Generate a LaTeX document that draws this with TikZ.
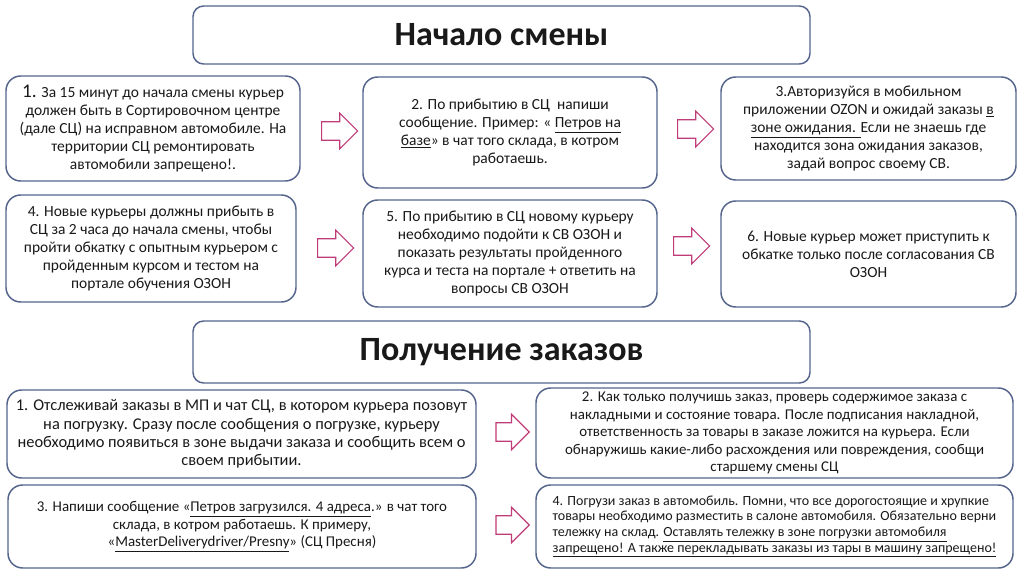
\documentclass[tikz,border=0pt]{standalone}
\usepackage{fontspec}
\setmainfont{Carlito}
\usetikzlibrary{shapes.arrows}
\definecolor{boxline}{RGB}{84,100,140}
\definecolor{arrline}{RGB}{192,60,120}
\tikzset{
  box/.style={draw=boxline, line width=1.1pt, rounded corners=11pt, fill=white, align=center, inner sep=2pt, text=black!90},
  titlebox/.style={box, rounded corners=8pt, font=\bfseries\fontsize{25.5}{28}\selectfont},
  bodyA/.style={font=\fontsize{11.6}{13.6}\selectfont},
  bodyD/.style={font=\fontsize{12.3}{13.75}\selectfont},
  bodyB/.style={font=\fontsize{11.2}{13.1}\selectfont},
  bodyC/.style={font=\fontsize{10.5}{11.8}\selectfont},
  blockarr/.style={single arrow, draw=arrline, line width=0.9pt, fill=white,
    minimum height=27pt, inner xsep=0pt, inner ysep=6.5pt,
    single arrow head extend=6.4pt, anchor=center}
}
\begin{document}
\begin{tikzpicture}[x=0.75pt,y=-0.75pt]
\path[use as bounding box, fill=white] (0,0) rectangle (1024,574);

\node[titlebox, minimum width=462.75pt, minimum height=43.5pt] (t1) at (501.5,35) {Начало смены};

\node[box, bodyA, minimum width=220.5pt, minimum height=78.75pt] (b1) at (153,128.5)
{{\fontsize{14.5}{13.6}\selectfont 1.} За 15 минут до начала смены курьер\\
должен быть в Сортировочном центре\\
(дале СЦ) на исправном автомобиле. На\\
территории СЦ ремонтировать\\
автомобили запрещено!.};

\node[box, bodyA, minimum width=220.5pt, minimum height=83.25pt] (b2) at (510,132.5)
{2. По прибытию в СЦ\ \ напиши\\
сообщение. Пример: « \underline{Петров на}\\
\underline{базе}» в чат того склада, в котром\\
работаешь.};

\node[box, bodyA, minimum width=221.25pt, minimum height=77.25pt] (b3) at (868.5,128.5)
{3.Авторизуйся в мобильном\\
приложении OZON и ожидай заказы \underline{в}\\
\underline{зоне ожидания. }Если не знаешь где\\
находится зона ожидания заказов,\\
задай вопрос своему СВ.};

\node[box, bodyA, minimum width=217.5pt, minimum height=80.25pt] (b4) at (151,248.5)
{4. Новые курьеры должны прибыть в\\
СЦ за 2 часа до начала смены, чтобы\\
пройти обкатку с опытным курьером с\\
пройденным курсом и тестом на\\
портале обучения ОЗОН};

\node[box, bodyA, minimum width=220.5pt, minimum height=80.25pt] (b5) at (510,253.5)
{5. По прибытию в СЦ новому курьеру\\
необходимо подойти к СВ ОЗОН и\\
показать результаты пройденного\\
курса и теста на портале + ответить на\\
вопросы СВ ОЗОН};

\node[box, bodyA, minimum width=221.25pt, minimum height=79.5pt] (b6) at (868.5,254)
{6. Новые курьер может приступить к\\
обкатке только после согласования СВ\\
ОЗОН};

\node[titlebox, minimum width=462.75pt, minimum height=46.5pt] (t2) at (501.5,352) {Получение заказов};

\node[box, bodyD, minimum width=351.75pt, minimum height=66pt] (b7) at (241.5,434)
{1. Отслеживай заказы в МП и чат СЦ, в котором курьера позовут\\
на погрузку. Сразу после сообщения о погрузке, курьеру\\
необходимо появиться в зоне выдачи заказа и сообщить всем о\\
своем прибытии.};

\node[box, bodyB, minimum width=357.75pt, minimum height=67.5pt] (b8) at (774.5,433)
{2. Как только получишь заказ, проверь содержимое заказа с\\
накладными и состояние товара. После подписания накладной,\\
ответственность за товары в заказе ложится на курьера. Если\\
обнаружишь какие-либо расхождения или повреждения, сообщи\\
старшему смены СЦ};

\node[box, bodyB, minimum width=351pt, minimum height=62.25pt] (b9) at (242,526.5)
{3. Напиши сообщение «\underline{Петров загрузился. 4 адреса}.» в чат того\\
склада, в котром работаешь. К примеру,\\
«\underline{MasterDeliverydriver/Presny}» (СЦ Пресня)};

\node[box, bodyC, align=left, minimum width=357.75pt, minimum height=62.25pt] (b10) at (774.5,526.5)
{4. Погрузи заказ в автомобиль. Помни, что все дорогостоящие и хрупкие\\
товары необходимо разместить в салоне автомобиля. Обязательно верни\\
тележку на склад. \underline{Оставлять тележку в зоне погрузки автомобиля}\\
\underline{запрещено! А также перекладывать заказы из тары в машину запрещено!}};

\node[blockarr] (a1) at (335,131) {};
\node[blockarr] (a2) at (691,129) {};
\node[blockarr] (a3) at (331,248) {};
\node[blockarr] (a4) at (687,246) {};
\node[blockarr, minimum height=25pt] (a5) at (508,432) {};
\node[blockarr, minimum height=25pt] (a6) at (508,525) {};
\end{tikzpicture}
\end{document}
